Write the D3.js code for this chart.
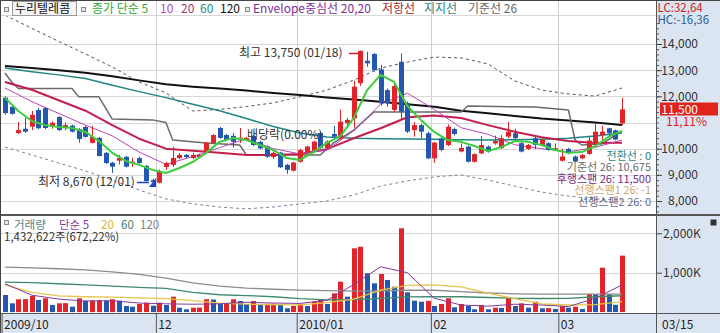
<!DOCTYPE html>
<html>
<head>
<meta charset="utf-8">
<script src="https://cdn.jsdelivr.net/npm/d3@7"></script>
<style>
  body { margin: 0; background: #fff; }
  svg { display: block; font-family: "Noto Sans CJK KR", "Noto Sans", sans-serif; }
</style>
</head>
<body>
<div id="chart"></div>
<script>
/* 누리텔레콤 daily candles with moving averages, envelope and volume */

// daily prices, 2009/10/29 ~ 2010/03/15
const opens = [11950, 11600, 10600, 10760, 10840, 11480, 11550, 10840, 11210, 10790,
  10880, 10750, 10830, 10220, 10410, 9840, 9460, 9540, 9690, 9440,
  9640, 9340, 8800, 8700, 9300, 9380, 9640, 9760, 9640, 9680,
  9880, 10220, 10790, 10520, 10490, 10400, 10330, 10480, 10260, 10080,
  9680, 9850, 9380, 9160, 9500, 9850, 9920, 10600, 10020, 10560,
  10400, 10980, 11160, 12500, 13360, 13620, 13030, 12240, 11480, 13320,
  11730, 10710, 10900, 10590, 9630, 10390, 10140, 10750, 9890, 10080,
  9500, 9820, 10080, 10200, 10020, 10460, 10590, 10210, 9990, 10400,
  10140, 10210, 10000, 9540, 9990, 9700, 9630, 9800, 10140, 10520,
  10780, 10700, 10970];
const highs = [12000, 11650, 11020, 11180, 11440, 11560, 11600, 11050, 11250, 11000,
  10920, 10780, 10870, 10860, 10450, 9870, 9500, 9760, 9720, 9650,
  9700, 9380, 8850, 9200, 9500, 10070, 9830, 9800, 9850, 9800,
  10260, 10560, 10830, 10560, 10600, 10790, 10450, 10520, 10300, 10120,
  9900, 9880, 9420, 9500, 10000, 10120, 10300, 10640, 10320, 10870,
  11500, 11180, 12600, 13750, 13700, 13650, 13200, 12300, 12450, 13640,
  11800, 11020, 10950, 10650, 10260, 10420, 10930, 10800, 10200, 10120,
  9820, 10480, 10120, 10500, 10520, 11020, 10760, 10250, 10180, 10520,
  10380, 10250, 10200, 10000, 10030, 9740, 9800, 10490, 10980, 10880,
  10800, 10730, 11950];
const lows = [11300, 11300, 10560, 10600, 10710, 10740, 10750, 10760, 10680, 10700,
  10620, 10230, 10420, 10200, 9700, 9420, 9070, 9400, 9280, 9300,
  9420, 8740, 8700, 8670, 9190, 9300, 9600, 9640, 9600, 9650,
  9830, 10180, 10380, 10300, 10050, 10220, 10300, 10100, 9980, 9660,
  9600, 9260, 9040, 9120, 9460, 9820, 9880, 9990, 9990, 10330,
  10350, 10800, 10800, 12400, 13130, 12950, 11650, 11600, 11400, 11100,
  10600, 10460, 10400, 9600, 9450, 9900, 10100, 10500, 9860, 9470,
  9470, 9790, 9850, 10150, 9990, 10400, 10370, 9860, 9950, 9980,
  10100, 9920, 9950, 9500, 9790, 9480, 9600, 9760, 10100, 10270,
  10450, 10320, 10900];
const closes = [11360, 11330, 10710, 10650, 11290, 10780, 10790, 10990, 10710, 10900,
  10650, 10370, 10450, 10450, 9720, 9450, 9310, 9640, 9310, 9500,
  9450, 8760, 8720, 9120, 9450, 9640, 9760, 9680, 9760, 9760,
  10220, 10520, 10410, 10330, 10260, 10420, 10410, 10140, 10010, 9690,
  9840, 9290, 9190, 9470, 9950, 10080, 10270, 10020, 10270, 10460,
  11030, 11100, 12370, 13740, 13260, 13000, 11730, 11730, 12390, 11410,
  10650, 10900, 10650, 9630, 10230, 9950, 10840, 10560, 10030, 9500,
  9790, 10140, 9890, 10300, 10400, 10650, 10400, 9890, 10140, 10140,
  10330, 9950, 10020, 9700, 9820, 9510, 9760, 10310, 10650, 10650,
  10590, 10350, 11500];
// volume, thousand shares
const volumes = [434, 223, 325, 330, 409, 307, 350, 180, 223, 228,
  137, 350, 290, 295, 300, 290, 325, 290, 155, 137,
  206, 239, 163, 239, 180, 391, 112, 71, 112, 115,
  325, 320, 206, 210, 325, 282, 206, 282, 206, 210,
  215, 206, 96, 155, 206, 155, 264, 325, 206, 477,
  772, 391, 1619, 1660, 985, 731, 967, 815, 645, 2127,
  502, 290, 264, 285, 155, 206, 350, 122, 206, 155,
  71, 180, 71, 112, 105, 375, 155, 223, 112, 264,
  96, 100, 80, 155, 112, 137, 80, 460, 450, 1127,
  452, 186, 1433];

// indicator lines every 4th day
const lineIdx = [0, 4, 8, 12, 16, 20, 24, 28, 32, 36, 40, 44, 48, 52, 56, 60, 64, 68, 72, 76, 80, 84, 88, 92];
const ma10 = [12320, 11800, 11350, 10900, 10490, 9870, 9400, 9700, 10040, 10380, 10000, 9800, 9950, 10680, 11700, 12120, 11500, 10800, 10550, 10150, 10000, 9880, 10050, 10330];
const ma20 = [12550, 12250, 11850, 11450, 10900, 10380, 10000, 9920, 9840, 9760, 9760, 9800, 9980, 10400, 10780, 11200, 11270, 11170, 10900, 10650, 10440, 10290, 10220, 10230];
const ma60 = [13080, 12940, 12820, 12680, 12420, 12180, 11950, 11700, 11450, 11150, 10850, 10600, 10450, 10400, 10380, 10370, 10360, 10340, 10330, 10340, 10360, 10400, 10480, 10600];
const ma120 = [13160, 13080, 13000, 12900, 12770, 12610, 12460, 12370, 12300, 12220, 12130, 12050, 11960, 11880, 11790, 11700, 11600, 11450, 11350, 11250, 11150, 11080, 11000, 10900];
const envUpper = [15100, 14600, 14100, 13620, 13120, 12550, 12130, 11440, 11500, 11610, 11750, 11980, 12240, 12620, 13080, 13310, 13500, 13470, 13240, 12590, 12240, 12090, 12010, 12320];
const envLower = [10060, 9760, 9450, 9150, 8800, 8420, 8080, 7890, 7770, 7700, 7770, 7890, 8000, 8230, 8570, 8770, 8920, 9000, 8800, 8570, 8340, 8190, 8080, 8040];
const volMa5 = [720, 430, 330, 280, 290, 230, 210, 200, 210, 250, 230, 220, 300, 700, 1150, 1000, 350, 180, 150, 200, 180, 140, 350, 690];
const volMa20 = [690, 500, 410, 390, 380, 360, 340, 290, 230, 200, 190, 185, 240, 330, 560, 680, 690, 640, 480, 340, 210, 180, 190, 264];
const volMa60 = [760, 750, 720, 690, 660, 630, 600, 500, 440, 420, 390, 340, 310, 320, 350, 385, 390, 390, 370, 350, 345, 350, 390, 415];
const volMa120 = [1140, 1120, 1100, 1070, 1020, 960, 860, 740, 660, 610, 580, 560, 545, 530, 540, 555, 555, 520, 485, 465, 455, 455, 455, 455];

// 5 day average, read every 2nd day
const ma5Idx = [0, 2, 4, 6, 8, 10, 12, 14, 16, 18, 20, 22, 24, 26, 28, 30, 32, 34, 36, 38, 40, 42, 44, 46,
  48, 50, 52, 54, 56, 58, 60, 62, 64, 66, 68, 70, 72, 74, 76, 78, 80, 82, 84, 86, 88, 90, 92];
const ma5 = [11940, 11440, 11060, 10900, 10830, 10790, 10640, 10290, 9840, 9530, 9380, 9190, 9070, 9260, 9490, 9840,
  10260, 10410, 10330, 10140, 9950, 9640, 9570, 9870, 10220, 10480, 11170, 12240, 12820, 12550, 11630, 11100,
  10640, 10330, 10260, 10100, 9910, 10060, 10290, 10260, 10140, 9950, 9840, 9870, 10100, 10450, 10680];

// 기준선 26 (step line), read at its corners
const kijunIdx = [0, 1, 2, 10, 11, 14, 16, 22, 24, 25, 30, 35, 36, 47, 49, 52, 55, 68, 69, 79, 84, 85, 86, 89, 92];
const kijun = [12890, 12550, 12300, 12300, 11980, 11980, 11130, 11100, 11000, 10330, 10220, 10140, 9760, 9760, 10220,
  10710, 11400, 11400, 11630, 11590, 11480, 10330, 10140, 10180, 10675];

const priceTicks = [8000, 9000, 10000, 12000, 13000, 14000];
const volTicks = [1000, 2000];
const monthIdx = [0, 23, 44, 64, 83];
const monthLabels = ["2009/10", "12", "2010/01", "02", "03"];

function create_chart() {
  let width = 720,
    height = 333,
    right = 657;

  const svg = d3
    .select("#chart")
    .append("svg")
    .attr("width", width)
    .attr("height", height);

  const panelBg = "#dbe5f1";
  const red = "#e0242a",
    blue = "#2458b0";

  svg.append("rect").attr("width", width).attr("height", height).attr("fill", "#fff");
  svg.append("rect").attr("x", right).attr("y", 0).attr("width", width - right).attr("height", height).attr("fill", panelBg);
  svg.append("rect").attr("x", 0).attr("y", 314).attr("width", width).attr("height", 19).attr("fill", panelBg);

  let x = d3.scaleLinear().domain([0, opens.length]).range([1.6, 625.4]);
  const cx = (i) => x(i + 0.5);
  let y = d3.scaleLinear().domain([8000, 14000]).range([201, 44]);
  let vy = d3.scaleLinear().domain([0, 2000]).range([312.1, 233.3]);

  // grid
  const grid = svg.append("g").attr("stroke", "#d8d8d8").attr("stroke-width", 1);
  grid
    .selectAll(".hg")
    .data(d3.range(8000, 14001, 1000))
    .join("line")
    .attr("x1", 1)
    .attr("x2", right)
    .attr("y1", (d) => Math.round(y(d)) + 0.5)
    .attr("y2", (d) => Math.round(y(d)) + 0.5);
  grid
    .selectAll(".vg")
    .data(volTicks)
    .join("line")
    .attr("x1", 1)
    .attr("x2", right)
    .attr("y1", (d) => Math.round(vy(d)) + 0.5)
    .attr("y2", (d) => Math.round(vy(d)) + 0.5);
  grid.append("line").attr("x1", 1).attr("x2", right).attr("y1", 15.5).attr("y2", 15.5);
  grid
    .selectAll(".mg")
    .data(monthIdx.slice(1))
    .join("line")
    .attr("stroke", "#cfcfcf")
    .attr("x1", (d) => Math.round(x(d)) + 0.5)
    .attr("x2", (d) => Math.round(x(d)) + 0.5)
    .attr("y1", 0)
    .attr("y2", 313);

  svg.append("clipPath").attr("id", "clip-price").append("rect").attr("x", 1).attr("y", 16).attr("width", right - 1).attr("height", 198);
  svg.append("clipPath").attr("id", "clip-vol").append("rect").attr("x", 1).attr("y", 217).attr("width", right - 1).attr("height", 96);

  const pg = svg.append("g").attr("clip-path", "url(#clip-price)");
  const line = d3
    .line()
    .x((d) => cx(d[0]))
    .y((d) => y(d[1]));

  function addLine(g, lineGen, idx, vals, color, w, dash) {
    g.append("path")
      .datum(d3.zip(idx, vals))
      .attr("d", lineGen)
      .attr("fill", "none")
      .attr("stroke", color)
      .attr("stroke-width", w)
      .attr("stroke-dasharray", dash || null)
      .attr("stroke-linejoin", "round");
  }

  addLine(pg, line, lineIdx, envUpper, "#555", 1, "3,3");
  addLine(pg, line, lineIdx, envLower, "#76839a", 1, "3,3");
  addLine(pg, line, lineIdx, ma120, "#111", 2);
  addLine(pg, line, lineIdx, ma60, "#1f8585", 1.5);
  addLine(pg, line, kijunIdx, kijun, "#6a6a6a", 1.5);
  addLine(pg, line, lineIdx, ma20, "#c41f4c", 2);
  addLine(pg, line, lineIdx, ma10, "#b845b8", 1);

  // candles
  const idx = d3.range(opens.length);
  const col = (i) => (closes[i] >= opens[i] ? red : blue);
  pg.selectAll(".wick")
    .data(idx)
    .join("line")
    .attr("x1", (i) => Math.round(cx(i)) + 0.5)
    .attr("x2", (i) => Math.round(cx(i)) + 0.5)
    .attr("y1", (i) => y(highs[i]))
    .attr("y2", (i) => y(lows[i]))
    .attr("stroke", col);
  pg.selectAll(".body")
    .data(idx)
    .join("rect")
    .attr("x", (i) => Math.round(cx(i)) - 2)
    .attr("width", 5)
    .attr("y", (i) => y(Math.max(opens[i], closes[i])))
    .attr("height", (i) => Math.max(1.2, Math.abs(y(opens[i]) - y(closes[i]))))
    .attr("fill", col);

  addLine(pg, line, ma5Idx, ma5, "#3ccc3c", 2);

  // volume
  const vg = svg.append("g").attr("clip-path", "url(#clip-vol)");
  vg.selectAll(".vol")
    .data(idx)
    .join("rect")
    .attr("x", (i) => Math.round(cx(i)) - 2)
    .attr("width", 5)
    .attr("y", (i) => vy(volumes[i]))
    .attr("height", (i) => vy(0) - vy(volumes[i]))
    .attr("fill", (i) => (i > 0 && volumes[i] > volumes[i - 1] ? red : blue));
  const vline = d3
    .line()
    .x((d) => cx(d[0]))
    .y((d) => vy(d[1]));
  addLine(vg, vline, lineIdx, volMa120, "#8c8c8c", 1.3);
  addLine(vg, vline, lineIdx, volMa60, "#3f8a6c", 1.3);
  addLine(vg, vline, lineIdx, volMa20, "#e6c54c", 1.3);
  addLine(vg, vline, lineIdx, volMa5, "#86389a", 1);

  // frame lines
  svg.append("line").attr("x1", 0).attr("x2", width).attr("y1", 215).attr("y2", 215).attr("stroke", "#555").attr("stroke-width", 2);
  svg.append("line").attr("x1", 0).attr("x2", width).attr("y1", 313.5).attr("y2", 313.5).attr("stroke", "#555");
  svg.append("line").attr("x1", right - 0.5).attr("x2", right - 0.5).attr("y1", 0).attr("y2", height).attr("stroke", "#555");
  svg.append("line").attr("x1", 0.5).attr("x2", 0.5).attr("y1", 0).attr("y2", height).attr("stroke", "#444");
  svg.append("line").attr("x1", 0).attr("x2", width).attr("y1", 0.5).attr("y2", 0.5).attr("stroke", "#444");

  // price axis
  const ya = svg
    .append("g")
    .attr("transform", `translate(${right},0)`)
    .call(d3.axisRight(y).tickValues(d3.range(7600, 15000, 200)).tickSize(2).tickFormat(""));
  ya.select(".domain").remove();
  ya.selectAll("line").attr("stroke", "#555");
  const yb = svg
    .append("g")
    .attr("transform", `translate(${right},0)`)
    .call(d3.axisRight(y).tickValues(priceTicks).tickSize(5).tickFormat(d3.format(",")));
  yb.select(".domain").remove();
  yb.selectAll("line").attr("stroke", "#444");
  yb.selectAll("text")
    .attr("x", 41)
    .attr("text-anchor", "end")
    .attr("fill", "#333")
    .style("font-size", "12px")
    .style("font-family", '"Noto Sans CJK KR", sans-serif');

  const va = svg
    .append("g")
    .attr("transform", `translate(${right},0)`)
    .call(d3.axisRight(vy).tickValues(volTicks).tickSize(5).tickFormat((d) => d3.format(",")(d) + "K"));
  va.select(".domain").remove();
  va.selectAll("line").attr("stroke", "#444");
  va.selectAll("text")
    .attr("x", 6)
    .attr("fill", "#333")
    .style("font-size", "12px")
    .style("font-family", '"Noto Sans CJK KR", sans-serif');

  // date axis
  const xa = svg
    .append("g")
    .attr("transform", "translate(0,313)")
    .call(d3.axisBottom(x).tickValues(monthIdx).tickSize(20).tickFormat((d, i) => monthLabels[i]));
  xa.select(".domain").remove();
  xa.selectAll("line").attr("stroke", "#555");
  xa.selectAll("text")
    .attr("x", 2)
    .attr("y", 16)
    .attr("dy", 0)
    .attr("text-anchor", "start")
    .attr("fill", "#222")
    .style("font-size", "12px")
    .style("font-family", '"Noto Sans CJK KR", sans-serif');

  function label(px, py, str, color, anchor, size) {
    return svg
      .append("text")
      .attr("x", px)
      .attr("y", py)
      .attr("fill", color)
      .attr("text-anchor", anchor || "start")
      .style("font-size", (size || 12) + "px")
      .text(str);
  }
  function square(px, py) {
    svg.append("rect").attr("x", px + 0.5).attr("y", py + 0.5).attr("width", 4).attr("height", 4).attr("fill", "#e8e8e8").attr("stroke", "#888");
  }

  label(662, 329, "03/15", "#222");

  // header
  square(4, 7);
  svg.append("rect").attr("x", 12.5).attr("y", 1.5).attr("width", 64).attr("height", 14).attr("fill", "#f4f4f4").attr("stroke", "#999");
  label(15, 13, "누리텔레콤", "#111");
  square(81, 7);
  label(92, 13, "종가 단순 5", "#2fa82f");
  label(160, 13, "10", "#b845b8");
  label(181, 13, "20", "#a8306c");
  label(200, 13, "60", "#1f8585");
  label(220, 13, "120", "#111");
  square(245, 7);
  label(253, 13, "Envelope중심선 20,20", "#7e2e9a");
  label(382, 13, "저항선", "#a01e32");
  label(424, 13, "지지선", "#1f8585");
  label(468, 13, "기준선 26", "#666");

  label(657.5, 12, "LC:32,64", "#cc2020", "start", 11.5);
  label(657.5, 23.5, "HC:-16,36", "#2a5a9a", "start", 11.5);

  // current price
  svg.append("rect").attr("x", 660).attr("y", 102.5).attr("width", 58).attr("height", 13).attr("fill", "#e0241c");
  label(698, 113.5, d3.format(",")(closes[closes.length - 1]), "#fff", "end");
  label(666, 125.5, "11,11%", "#e02020");

  // annotations
  label(239, 57, "최고 13,750 (01/18)", "#333");
  svg.append("line").attr("x1", 349).attr("x2", 358).attr("y1", 53.5).attr("y2", 53.5).attr("stroke", "#d02020").attr("stroke-width", 1.5);
  label(38, 186, "최저 8,670 (12/01)", "#333");
  svg.append("line").attr("x1", 137).attr("x2", 149).attr("y1", 182.5).attr("y2", 182.5).attr("stroke", "#2040c0").attr("stroke-width", 1.5);
  svg.append("path").attr("d", "M149,187 L156,187 L156,178 Z").attr("fill", "#2040d0");
  label(247, 139, "배당락(0.00%)", "#333");

  label(651, 159.5, "전환선 : 0", "#1f8585", "end", 11);
  label(651, 171, "기준선 26: 10,675", "#6a6a6a", "end", 11);
  label(651, 182.5, "후행스팬 26: 11,500", "#7a2a8a", "end", 11);
  label(651, 194, "선행스팬1 26: -1", "#c9a77a", "end", 11);
  label(651, 205.5, "선행스팬2 26: 0", "#5a6a8a", "end", 11);

  // volume header
  square(4, 220);
  label(14, 229, "거래량", "#4f8585", "start", 11.5);
  label(59, 229, "단순 5", "#86389a", "start", 11.5);
  label(101, 229, "20", "#d9b53a", "start", 11.5);
  label(121, 229, "60", "#3f7a6c", "start", 11.5);
  label(140, 229, "120", "#808080", "start", 11.5);
  label(4, 241, "1,432,622주(672,22%)", "#333", "start", 11.5);

  svg.append("rect").attr("x", 710.5).attr("y", 219.5).attr("width", 6).attr("height", 6).attr("fill", "#333");
}

create_chart();
</script>
</body>
</html>
